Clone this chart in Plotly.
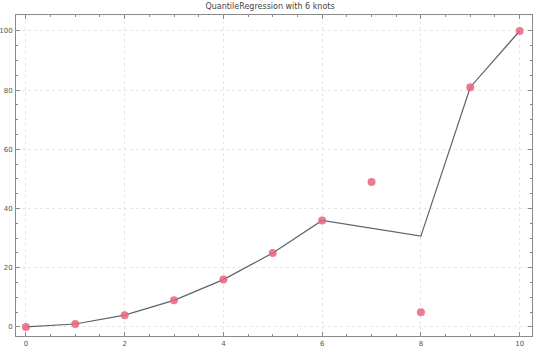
import plotly.graph_objects as go

x_data = [0, 1, 2, 3, 4, 5, 6, 7, 8, 9, 10]
y_data = [0, 1, 4, 9, 16, 25, 36, 49, 5, 81, 100]
x_fit = [0, 1, 2, 3, 4, 5, 6, 8, 9, 10]
y_fit = [0, 1, 4, 9, 16, 25, 36, 30.7, 81, 100]
title_text = "QuantileRegression with 6 knots"

fig = go.Figure()
fig.add_trace(go.Scatter(x=x_fit, y=y_fit, mode="lines",
                         line=dict(color="#5a6470", width=1.2), showlegend=False))
fig.add_trace(go.Scatter(x=x_data, y=y_data, mode="markers",
                         marker=dict(color="rgba(232,100,125,0.85)", size=8), showlegend=False))

axis_common = dict(
    showline=True, linecolor="#8a8a8a", linewidth=1, mirror="allticks",
    ticks="inside", ticklen=4, tickcolor="#8a8a8a", tickwidth=1,
    showgrid=True, gridcolor="#e6e6e6", gridwidth=1, griddash="dot",
    zeroline=False, automargin=False,
    tickfont=dict(family="DejaVu Sans", size=7, color="#555555"),
)
fig.update_xaxes(range=[-0.2, 10.25], tickvals=[0, 2, 4, 6, 8, 10],
                 minor=dict(tickvals=[0.5*i for i in range(0, 21) if i % 4 != 0],
                            ticks="inside", ticklen=2, tickcolor="#8a8a8a", showgrid=False),
                 ticklabelstandoff=1, **axis_common)
fig.update_yaxes(range=[-3.05, 105.4], tickvals=[0, 20, 40, 60, 80, 100],
                 minor=dict(tickvals=[5*i for i in range(0, 21) if i % 4 != 0],
                            ticks="inside", ticklen=2, tickcolor="#8a8a8a", showgrid=False),
                 ticklabelstandoff=1, **axis_common)

fig.update_layout(
    width=540, height=347,
    margin=dict(l=16, r=8, t=15, b=11),
    paper_bgcolor="white", plot_bgcolor="white",
    title=dict(text=title_text, x=0.5, xanchor="center", y=0.99, yanchor="top",
               font=dict(family="DejaVu Sans", size=8, color="#444444")),
)
fig.write_html("out.html")
